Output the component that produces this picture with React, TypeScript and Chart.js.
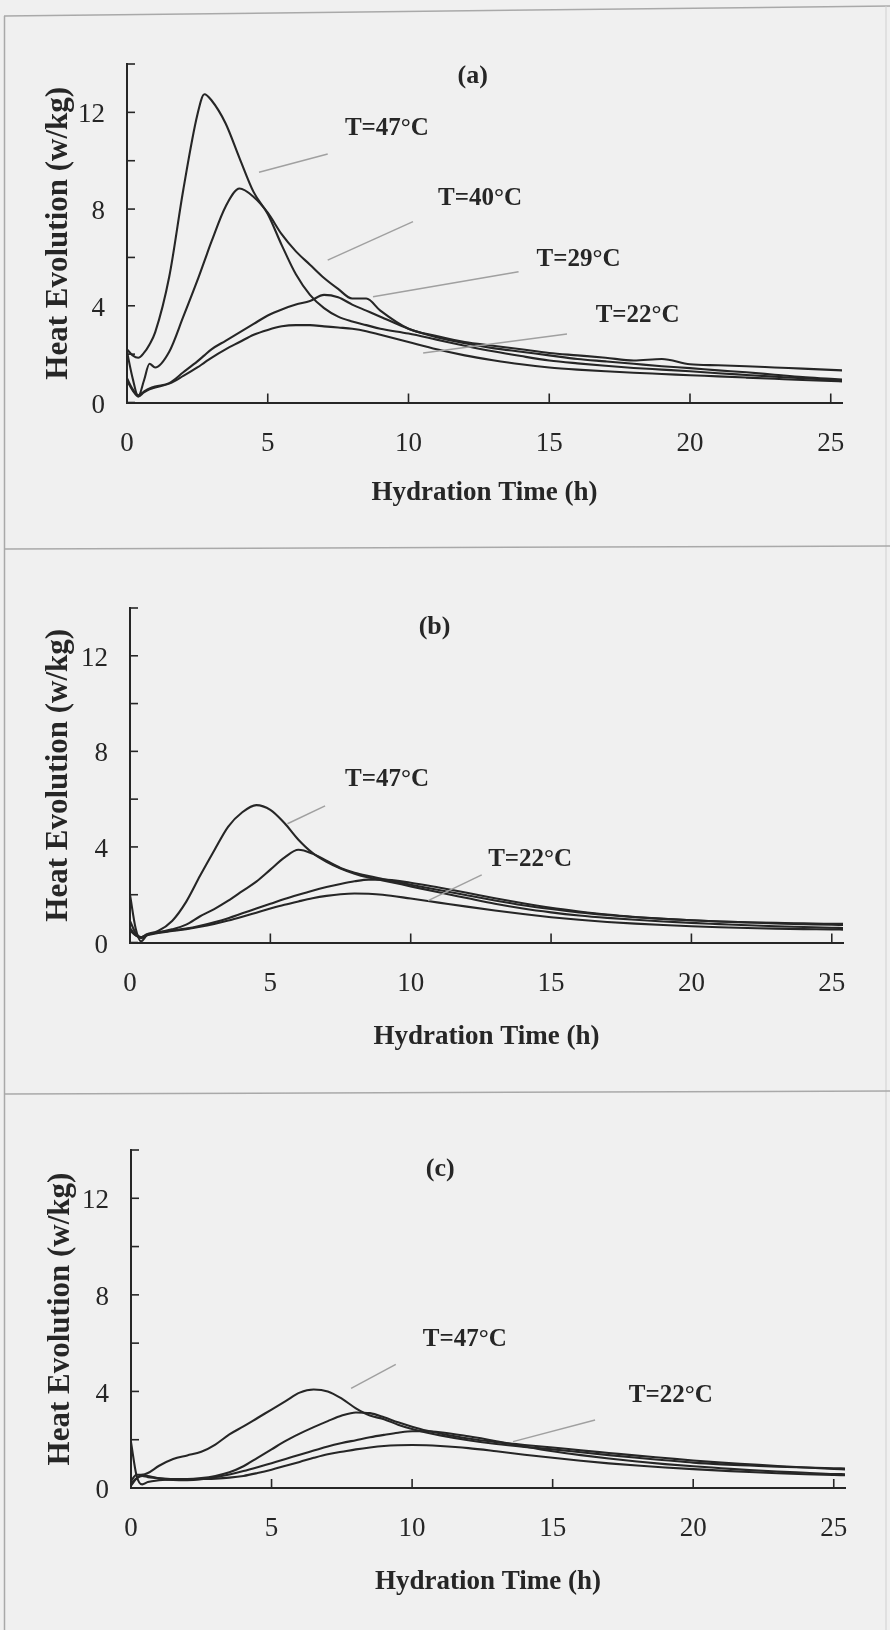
import React, { useEffect, useRef } from "react";
import { Chart, registerables } from "chart.js";

Chart.register(...registerables);

const SERIF = "'Liberation Serif', 'Times New Roman', Times, serif";
const INK = "#262626";
const LEADER = "#a0a0a0";
const BG = "#f0f0f0";
const FRAME = "#a9a9a9";

const X_TITLE = "Hydration Time (h)";
const Y_TITLE = "Heat Evolution (w/kg)";
const X_MAX = 25.4;
const Y_MAX = 14;
const SERIES_LABELS = ["T=47°C", "T=40°C", "T=29°C", "T=22°C"];

// ---------- panel (a) ----------
const timesA = [0, 0.2, 0.4, 0.6, 0.8, 1, 1.5, 2, 2.5, 2.75, 3, 3.5, 4, 4.5, 5, 5.5, 6, 6.5, 7, 7.5, 8, 8.5, 9, 10, 11, 12, 13, 14, 15, 16, 17, 18, 19, 20, 21, 22, 23, 24, 25, 25.4];
const heatA47 = [2.2, 1.95, 1.85, 2.05, 2.4, 2.9, 5.2, 8.8, 11.9, 12.75, 12.5, 11.55, 10.1, 8.7, 7.8, 6.5, 5.3, 4.45, 3.9, 3.55, 3.35, 3.2, 3.05, 2.85, 2.6, 2.35, 2.12, 1.92, 1.74, 1.62, 1.52, 1.43, 1.36, 1.29, 1.21, 1.14, 1.07, 1.0, 0.94, 0.92];
const heatA40 = [2.1, 1.0, 0.25, 0.9, 1.6, 1.45, 2.1, 3.55, 5.05, 5.85, 6.65, 8.1, 8.85, 8.5, 7.85, 6.95, 6.25, 5.7, 5.15, 4.7, 4.3, 4.3, 3.8, 3.05, 2.75, 2.5, 2.35, 2.2, 2.05, 1.95, 1.85, 1.74, 1.8, 1.58, 1.54, 1.5, 1.45, 1.4, 1.35, 1.33];
const heatA29 = [1.0, 0.55, 0.3, 0.45, 0.58, 0.66, 0.8, 1.25, 1.7, 1.95, 2.2, 2.55, 2.9, 3.25, 3.6, 3.85, 4.05, 4.2, 4.45, 4.35, 4.05, 3.8, 3.55, 3.05, 2.7, 2.45, 2.25, 2.1, 1.95, 1.8, 1.7, 1.6, 1.5, 1.42, 1.33, 1.25, 1.15, 1.05, 0.98, 0.95];
const heatA22 = [0.9, 0.5, 0.25, 0.42, 0.55, 0.62, 0.78, 1.1, 1.45, 1.65, 1.85, 2.2, 2.5, 2.8, 3.0, 3.15, 3.2, 3.2, 3.15, 3.1, 3.05, 2.95, 2.8, 2.5, 2.2, 1.95, 1.75, 1.58, 1.45, 1.36, 1.29, 1.23, 1.18, 1.13, 1.08, 1.03, 0.98, 0.93, 0.89, 0.87];

// ---------- panel (b) ----------
const timesB = [0, 0.2, 0.4, 0.6, 1, 1.5, 2, 2.5, 3, 3.5, 4, 4.5, 5, 5.5, 6, 6.5, 7, 7.5, 8, 8.5, 9, 10, 11, 12, 13, 14, 15, 16, 17, 18, 19, 20, 21, 22, 23, 24, 25, 25.4];
const heatB47 = [0.9, 0.4, 0.22, 0.35, 0.48, 0.9, 1.7, 2.8, 3.85, 4.85, 5.45, 5.75, 5.55, 5.0, 4.3, 3.75, 3.38, 3.1, 2.88, 2.72, 2.6, 2.35, 2.1, 1.86, 1.62, 1.42, 1.26, 1.13, 1.03, 0.95, 0.88, 0.82, 0.77, 0.72, 0.68, 0.65, 0.62, 0.61];
const heatB40 = [2.0, 0.6, 0.05, 0.3, 0.42, 0.55, 0.75, 1.1, 1.4, 1.75, 2.15, 2.55, 3.05, 3.55, 3.88, 3.72, 3.42, 3.12, 2.92, 2.78, 2.66, 2.42, 2.2, 1.98, 1.76, 1.56, 1.4, 1.26, 1.15, 1.06, 0.99, 0.93, 0.88, 0.85, 0.82, 0.8, 0.78, 0.78];
const heatB29 = [0.5, 0.3, 0.22, 0.32, 0.42, 0.5, 0.58, 0.7, 0.85, 1.02, 1.22, 1.42, 1.62, 1.82, 2.0, 2.17, 2.32, 2.45, 2.56, 2.63, 2.63, 2.5, 2.3, 2.08, 1.85, 1.64, 1.45, 1.3, 1.17, 1.07, 0.99, 0.93, 0.88, 0.84, 0.8, 0.77, 0.74, 0.73];
const heatB22 = [0.6, 0.3, 0.18, 0.3, 0.4, 0.48, 0.56, 0.66, 0.78, 0.92, 1.08, 1.25, 1.42, 1.58, 1.72, 1.85, 1.95, 2.02, 2.05, 2.04, 2.0, 1.84, 1.67, 1.5, 1.34, 1.19, 1.06, 0.95, 0.86, 0.79, 0.73, 0.68, 0.64, 0.61, 0.58, 0.56, 0.55, 0.54];

// ---------- panel (c) ----------
const timesC = [0, 0.2, 0.4, 0.6, 1, 1.5, 2, 2.5, 3, 3.5, 4, 4.5, 5, 5.5, 6, 6.5, 7, 7.5, 8, 8.5, 9, 9.5, 10, 10.5, 11, 12, 13, 14, 15, 16, 17, 18, 19, 20, 21, 22, 23, 24, 25, 25.4];
const heatC47 = [0.3, 0.55, 0.55, 0.62, 0.92, 1.2, 1.35, 1.5, 1.8, 2.22, 2.55, 2.9, 3.25, 3.6, 3.95, 4.08, 4.0, 3.7, 3.3, 3.0, 2.85, 2.62, 2.44, 2.3, 2.18, 1.98, 1.82, 1.7, 1.6, 1.48, 1.36, 1.25, 1.15, 1.05, 0.98, 0.93, 0.88, 0.85, 0.82, 0.81];
const heatC40 = [0.2, 0.4, 0.5, 0.45, 0.4, 0.37, 0.37, 0.41, 0.5, 0.65, 0.9, 1.25, 1.6, 1.95, 2.25, 2.52, 2.77, 3.0, 3.13, 3.1, 2.93, 2.72, 2.54, 2.38, 2.26, 2.05, 1.9, 1.78, 1.68, 1.56, 1.45, 1.34, 1.24, 1.14, 1.05, 0.98, 0.91, 0.85, 0.79, 0.77];
const heatC29 = [0.1, 0.4, 0.55, 0.5, 0.4, 0.33, 0.32, 0.36, 0.45, 0.56, 0.7, 0.86, 1.03, 1.2, 1.38, 1.55, 1.72, 1.86, 1.98, 2.1, 2.2, 2.29, 2.35, 2.35, 2.31, 2.14, 1.94, 1.72, 1.52, 1.36, 1.22, 1.1, 0.99, 0.9, 0.82, 0.74, 0.68, 0.63, 0.58, 0.57];
const heatC22 = [1.9, 0.5, 0.15, 0.25, 0.32, 0.35, 0.35, 0.37, 0.39, 0.43, 0.5, 0.62, 0.76, 0.92, 1.08, 1.25, 1.4, 1.5, 1.6, 1.68, 1.74, 1.77, 1.78, 1.77, 1.74, 1.65, 1.52, 1.38, 1.25, 1.13, 1.02, 0.93, 0.85, 0.78, 0.72, 0.66, 0.61, 0.57, 0.54, 0.53];

// ---------- annotations (anchored in data units) ----------
type Note = { text: string; t: number; v: number; t1: number; v1: number; t2: number; v2: number };
type Tag = { text: string; t: number; v: number };

const notesA: Note[] = [
  { text: "T=47°C", t: 7.74, v: 11.35, t1: 4.69, v1: 9.52, t2: 7.13, v2: 10.28 },
  { text: "T=40°C", t: 11.05, v: 8.45, t1: 7.13, v1: 5.89, t2: 10.16, v2: 7.48 },
  { text: "T=29°C", t: 14.55, v: 5.9, t1: 8.74, v1: 4.37, t2: 13.91, v2: 5.41 },
  { text: "T=22°C", t: 16.65, v: 3.6, t1: 10.52, v1: 2.05, t2: 15.63, v2: 2.83 },
];
const notesB: Note[] = [
  { text: "T=47°C", t: 7.66, v: 6.84, t1: 5.61, v1: 4.97, t2: 6.95, v2: 5.72 },
  { text: "T=22°C", t: 12.76, v: 3.47, t1: 10.62, v1: 1.75, t2: 12.53, v2: 2.83 },
];
const notesC: Note[] = [
  { text: "T=47°C", t: 10.38, v: 6.14, t1: 7.83, v1: 4.13, t2: 9.42, v2: 5.12 },
  { text: "T=22°C", t: 17.71, v: 3.81, t1: 13.59, v1: 1.92, t2: 16.51, v2: 2.82 },
];
const tagA: Tag = { text: "(a)", t: 12.28, v: 13.5 };
const tagB: Tag = { text: "(b)", t: 10.85, v: 13.2 };
const tagC: Tag = { text: "(c)", t: 11.0, v: 13.2 };

type PanelSpec = {
  top: number; height: number; padTop: number; leftW: number; padRight: number; bottomH: number;
  xTitlePad: number; yTitlePad: number;
  times: number[]; series: number[][]; notes: Note[]; tag: Tag;
};

const PANELS: PanelSpec[] = [
  { top: 0, height: 547, padTop: 64, leftW: 127, padRight: 48, bottomH: 144.5, xTitlePad: 38, yTitlePad: 40,
    times: timesA, series: [heatA47, heatA40, heatA29, heatA22], notes: notesA, tag: tagA },
  { top: 547, height: 546, padTop: 61, leftW: 130, padRight: 47, bottomH: 150.5, xTitlePad: 40, yTitlePad: 40,
    times: timesB, series: [heatB47, heatB40, heatB29, heatB22], notes: notesB, tag: tagB },
  { top: 1093, height: 537, padTop: 57, leftW: 131, padRight: 45, bottomH: 142, xTitlePad: 32, yTitlePad: 42,
    times: timesC, series: [heatC47, heatC40, heatC29, heatC22], notes: notesC, tag: tagC },
];

function makeDecor(p: PanelSpec) {
  return {
    id: "decor",
    afterDraw(chart: any) {
      const { ctx } = chart;
      const xs = chart.scales.x;
      const ys = chart.scales.y;
      ctx.save();
      // inward tick marks
      ctx.strokeStyle = INK;
      ctx.lineWidth = 1.6;
      ys.ticks.forEach((tk: any) => {
        const y = ys.getPixelForValue(tk.value);
        ctx.beginPath();
        ctx.moveTo(xs.left, y);
        ctx.lineTo(xs.left + 8, y);
        ctx.stroke();
      });
      xs.ticks.forEach((tk: any) => {
        if (tk.value <= 0) return;
        const x = xs.getPixelForValue(tk.value);
        ctx.beginPath();
        ctx.moveTo(x, ys.bottom);
        ctx.lineTo(x, ys.bottom - 9);
        ctx.stroke();
      });
      // leader lines
      ctx.strokeStyle = LEADER;
      ctx.lineWidth = 1.5;
      p.notes.forEach((n) => {
        ctx.beginPath();
        ctx.moveTo(xs.getPixelForValue(n.t1), ys.getPixelForValue(n.v1));
        ctx.lineTo(xs.getPixelForValue(n.t2), ys.getPixelForValue(n.v2));
        ctx.stroke();
      });
      // labels
      ctx.fillStyle = INK;
      ctx.textBaseline = "middle";
      ctx.font = `bold 25px ${SERIF}`;
      ctx.textAlign = "left";
      p.notes.forEach((n) => {
        ctx.fillText(n.text, xs.getPixelForValue(n.t), ys.getPixelForValue(n.v));
      });
      ctx.font = `bold 26px ${SERIF}`;
      ctx.textAlign = "center";
      ctx.fillText(p.tag.text, xs.getPixelForValue(p.tag.t), ys.getPixelForValue(p.tag.v));
      ctx.restore();
    },
  };
}

function buildConfig(p: PanelSpec): any {
  return {
    type: "line",
    data: {
      datasets: p.series.map((vals, si) => ({
        label: SERIES_LABELS[si],
        data: p.times.map((t, i) => ({ x: t, y: vals[i] })),
        borderColor: INK,
        borderWidth: 2.1,
        pointRadius: 0,
        fill: false,
        cubicInterpolationMode: "monotone",
      })),
    },
    options: {
      animation: false,
      responsive: false,
      maintainAspectRatio: false,
      events: [],
      layout: { padding: { top: p.padTop, right: p.padRight, left: 0, bottom: 0 } },
      plugins: { legend: { display: false }, tooltip: { enabled: false } },
      scales: {
        x: {
          type: "linear",
          min: 0,
          max: X_MAX,
          afterFit: (s: any) => { s.height = p.bottomH; },
          grid: { display: false, drawTicks: false },
          border: { display: true, color: INK, width: 2 },
          ticks: {
            stepSize: 5,
            includeBounds: false,
            padding: 25,
            autoSkip: false,
            maxRotation: 0,
            color: INK,
            font: { family: SERIF, size: 27 },
            callback: (v: any) => String(v),
          },
          title: {
            display: true,
            text: X_TITLE,
            color: INK,
            font: { family: SERIF, size: 27, weight: "bold" },
            padding: { top: 0, bottom: p.xTitlePad },
          },
        },
        y: {
          min: 0,
          max: Y_MAX,
          afterFit: (s: any) => { s.width = p.leftW; },
          grid: { display: false, drawTicks: false },
          border: { display: true, color: INK, width: 2 },
          ticks: {
            stepSize: 2,
            padding: 22,
            labelOffset: 3,
            autoSkip: false,
            color: INK,
            font: { family: SERIF, size: 27 },
            callback: (v: any) => (Number(v) % 4 === 0 ? String(v) : ""),
          },
          title: {
            display: true,
            text: Y_TITLE,
            color: INK,
            font: { family: SERIF, size: 31, weight: "bold" },
            padding: { top: p.yTitlePad, bottom: 0 },
          },
        },
      },
    },
    plugins: [makeDecor(p)],
  };
}

function Panel({ spec }: { spec: PanelSpec }) {
  const ref = useRef<HTMLCanvasElement | null>(null);
  useEffect(() => {
    if (!ref.current) return;
    const chart = new Chart(ref.current, buildConfig(spec));
    return () => chart.destroy();
  }, [spec]);
  return (
    <canvas
      ref={ref}
      width={890}
      height={spec.height}
      style={{ position: "absolute", left: 0, top: spec.top, width: 890, height: spec.height, display: "block" }}
    />
  );
}

export default function App() {
  return (
    <div style={{ position: "absolute", left: 0, top: 0, width: 890, height: 1630, background: BG, overflow: "hidden" }}>
      <svg width={890} height={1630} style={{ position: "absolute", left: 0, top: 0 }}>
        <line x1={4} y1={16} x2={890} y2={6} stroke={FRAME} strokeWidth={1.5} />
        <line x1={4.5} y1={16} x2={4.5} y2={1630} stroke={FRAME} strokeWidth={1.5} />
        <line x1={886} y1={6} x2={886} y2={1630} stroke="#d0d0d0" strokeWidth={1} />
        <line x1={4} y1={549} x2={890} y2={546} stroke={FRAME} strokeWidth={1.5} />
        <line x1={4} y1={1094} x2={890} y2={1091} stroke={FRAME} strokeWidth={1.5} />
      </svg>
      {PANELS.map((p, i) => (
        <Panel key={i} spec={p} />
      ))}
    </div>
  );
}
